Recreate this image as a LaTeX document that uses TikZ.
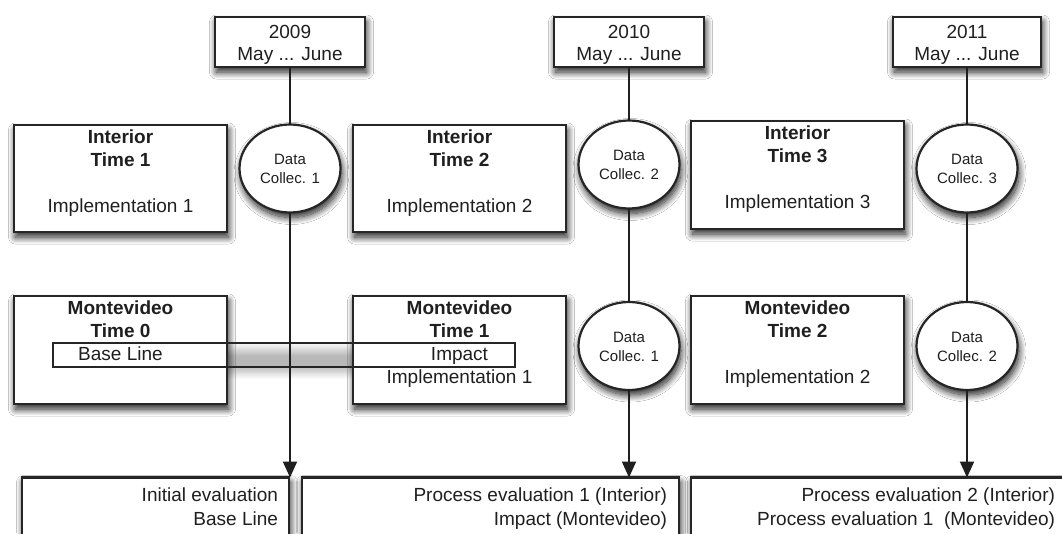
\documentclass[tikz,border=0pt]{standalone}
\usepackage{fontspec}
\setmainfont{Liberation Sans}
\usetikzlibrary{shapes.geometric,arrows.meta,shadows.blur}

\begin{document}
\begin{tikzpicture}[x=1pt,y=-1pt,
  softshadow/.style={blur shadow={shadow xshift=1.5pt,shadow yshift=-5pt,shadow blur radius=7pt,shadow blur steps=14,shadow opacity=90}},
  lightshadow/.style={blur shadow={shadow xshift=0pt,shadow yshift=-6pt,shadow blur radius=7pt,shadow blur steps=14,shadow opacity=28}},
  panel/.style={rectangle,draw=black!85,line width=2.2pt,fill=white,inner sep=0pt,outer sep=0pt,softshadow},
  datacol/.style={ellipse,draw=black!85,line width=2.2pt,fill=white,inner sep=0pt,outer sep=0pt,
    minimum width=101pt,minimum height=88pt,softshadow},
  flow/.style={line width=2pt,draw=black!88},
  flowarrow/.style={flow,-{Triangle[length=16pt,width=14pt]}},
  txt/.style={inner sep=0pt,outer sep=0pt,anchor=base,text=black!88,font=\fontsize{19pt}{23pt}\selectfont},
  btxt/.style={txt,font=\fontsize{19pt}{23pt}\selectfont\bfseries},
  stxt/.style={txt,font=\fontsize{15pt}{18pt}\selectfont},
  rtxt/.style={txt,anchor=base east},
]
\useasboundingbox (0,0) rectangle (1062,533);
\fill[white] (0,0) rectangle (1062,533);
\clip (0,0) rectangle (1062,533);

% shadow of the strip linking Base Line and Impact
\node[rectangle,inner sep=0pt,outer sep=0pt,minimum width=462pt,minimum height=23.5pt,lightshadow] (blrect) at (284,355) {};

% year boxes
\node[panel,minimum width=150pt,minimum height=50pt] (y09) at (290,42) {};
\node[panel,minimum width=150pt,minimum height=50pt] (y10) at (629,42) {};
\node[panel,minimum width=148pt,minimum height=50pt] (y11) at (967,42) {};
\node[txt] (y09a) at (290,38) {2009};
\node[txt] (y09b) at (290,60) {May ... June};
\node[txt] (y10a) at (629,38) {2010};
\node[txt] (y10b) at (629,60) {May ... June};
\node[txt] (y11a) at (967,38) {2011};
\node[txt] (y11b) at (967,60) {May ... June};

% Interior row
\node[panel,minimum width=213pt,minimum height=107pt] (int1) at (120.5,178.5) {};
\node[panel,minimum width=213pt,minimum height=107pt] (int2) at (459.5,178.5) {};
\node[panel,minimum width=213pt,minimum height=108pt] (int3) at (797.5,175) {};
\node[btxt] (int1a) at (120.5,143) {Interior};
\node[btxt] (int1b) at (120.5,166) {Time 1};
\node[txt]  (int1c) at (120.5,212) {Implementation 1};
\node[btxt] (int2a) at (459.5,143) {Interior};
\node[btxt] (int2b) at (459.5,166) {Time 2};
\node[txt]  (int2c) at (459.5,212) {Implementation 2};
\node[btxt] (int3a) at (797.5,139) {Interior};
\node[btxt] (int3b) at (797.5,162) {Time 3};
\node[txt]  (int3c) at (797.5,208) {Implementation 3};

% data collection, Interior
\node[datacol] (dc1) at (290,168.5) {};
\node[datacol] (dc2) at (629,164.5) {};
\node[datacol] (dc3) at (967,168.5) {};
\node[stxt] (dc1a) at (290,164.5) {Data};
\node[stxt] (dc1b) at (290,183.5) {Collec. 1};
\node[stxt] (dc2a) at (629,160.5) {Data};
\node[stxt] (dc2b) at (629,179.5) {Collec. 2};
\node[stxt] (dc3a) at (967,164.5) {Data};
\node[stxt] (dc3b) at (967,183.5) {Collec. 3};

% Montevideo row
\node[panel,minimum width=213pt,minimum height=108pt] (mvd0) at (120.5,350) {};
\node[panel,minimum width=213pt,minimum height=108pt] (mvd1) at (459.5,350) {};
\node[panel,minimum width=213pt,minimum height=108pt] (mvd2) at (797.5,350) {};
\node[btxt] (mvd0a) at (120.5,314) {Montevideo};
\node[btxt] (mvd0b) at (120.5,337.3) {Time 0};
\node[txt]  (mvd0c) at (120.5,360.7) {Base Line};
\node[btxt] (mvd1a) at (459.5,314) {Montevideo};
\node[btxt] (mvd1b) at (459.5,337.3) {Time 1};
\node[txt]  (mvd1c) at (459.5,360.7) {Impact};
\node[txt]  (mvd1d) at (459.5,383.5) {Implementation 1};
\node[btxt] (mvd2a) at (797.5,314) {Montevideo};
\node[btxt] (mvd2b) at (797.5,337.3) {Time 2};
\node[txt]  (mvd2c) at (797.5,383.5) {Implementation 2};

% strip outline across both boxes
\draw[line width=1.8pt,black!85] (blrect.north west) rectangle (blrect.south east);

% data collection, Montevideo
\node[datacol] (dc1m) at (629,346) {};
\node[datacol] (dc2m) at (967,346) {};
\node[stxt] (dc1ma) at (629,342) {Data};
\node[stxt] (dc1mb) at (629,361) {Collec. 1};
\node[stxt] (dc2ma) at (967,342) {Data};
\node[stxt] (dc2mb) at (967,361) {Collec. 2};

% evaluation boxes
\node[panel,minimum width=267pt,minimum height=125pt] (ev1) at (155.5,540) {};
\node[panel,minimum width=377pt,minimum height=125pt] (ev2) at (490.5,540) {};
\node[panel,minimum width=409pt,minimum height=125pt] (ev3) at (895.5,540) {};
\node[rtxt] (ev1a) at (278,501.7) {Initial evaluation};
\node[rtxt] (ev1b) at (278,525) {Base Line};
\node[rtxt] (ev2a) at (667,501.7) {Process evaluation 1 (Interior)};
\node[rtxt] (ev2b) at (667,525) {Impact (Montevideo)};
\node[rtxt] (ev3a) at (1055,501.7) {Process evaluation 2 (Interior)};
\node[rtxt] (ev3b) at (1055,525) {Process evaluation 1\ \ (Montevideo)};

% timeline connectors
\draw[flow] (y09) -- (dc1);
\draw[flowarrow] (dc1) -- (dc1 |- ev1.north);
\draw[flow] (y10) -- (dc2);
\draw[flow] (dc2) -- (dc1m);
\draw[flowarrow] (dc1m) -- (dc1m |- ev2.north);
\draw[flow] (y11) -- (dc3);
\draw[flow] (dc3) -- (dc2m);
\draw[flowarrow] (dc2m) -- (dc2m |- ev3.north);
\end{tikzpicture}
\end{document}
